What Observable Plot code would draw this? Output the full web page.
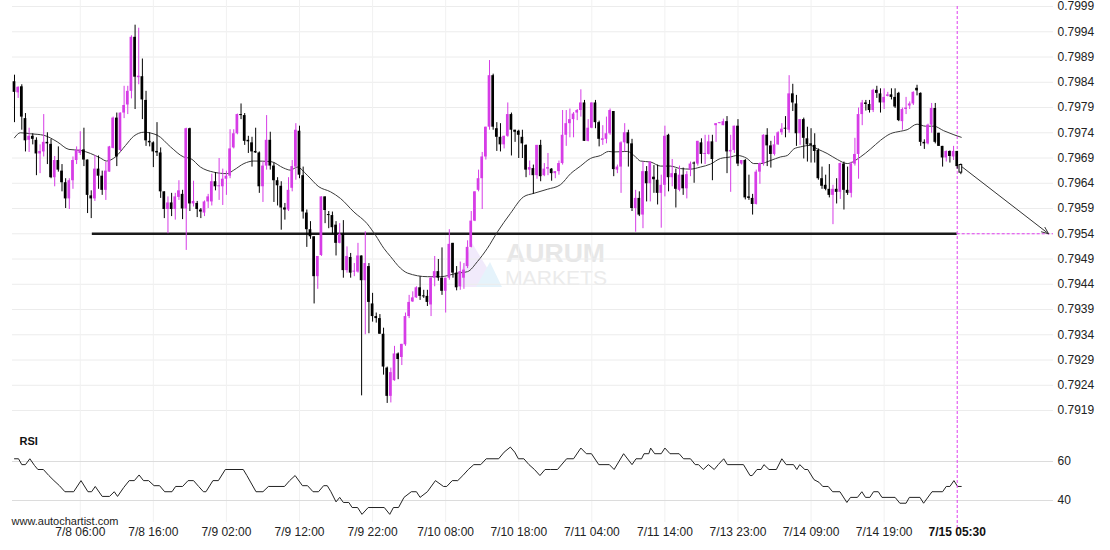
<!DOCTYPE html>
<html>
<head>
<meta charset="utf-8">
<script src="https://cdn.jsdelivr.net/npm/d3@7"></script>
<script src="https://cdn.jsdelivr.net/npm/@observablehq/plot@0.6"></script>
<style>
  body { margin: 0; background: #fff; }
  #wrap { position: relative; width: 1110px; height: 550px; overflow: hidden; font-family: "Liberation Sans", Arial, sans-serif; }
  #wrap > svg, #wrap > div { position: absolute; left: 0; }
</style>
</head>
<body>
<div id="wrap">
  <div id="wm" style="top:0;left:0;width:1110px;height:550px;">
    <svg width="1110" height="550" style="position:absolute;left:0;top:0">
      <polygon points="455,287 472,243 489,271 481,287" fill="#f1eafb"/>
      <polygon points="476,287 490,262 502,287" fill="#e5f3fb"/>
      <text x="506" y="261.5" font-family="Liberation Sans, Arial, sans-serif" font-size="25" font-weight="bold" fill="#e7e7e7" textLength="99" lengthAdjust="spacingAndGlyphs">AURUM</text>
      <text x="505" y="285" font-family="Liberation Sans, Arial, sans-serif" font-size="20" fill="#ebebeb" textLength="102" lengthAdjust="spacingAndGlyphs">MARKETS</text>
    </svg>
  </div>
</div>
<script>
// ---------- DATA ----------
const open = [
0.79841,0.79819,0.79831,0.79768,0.79725,0.79733,0.79725,0.79698,0.79702,0.79721,
0.79717,0.79651,0.79685,0.79664,0.79641,0.79609,0.79645,0.79685,0.79699,0.79706,
0.79686,0.79615,0.79609,0.79668,0.79654,0.79626,0.79662,0.79709,0.79769,0.79705,
0.79779,0.79795,0.79822,0.79929,0.79849,0.79851,0.79804,0.79723,0.79720,0.79703,
0.79700,0.79623,0.79588,0.79601,0.79588,0.79612,0.79618,0.79589,0.79748,0.79599,
0.79600,0.79587,0.79581,0.79603,0.79603,0.79643,0.79633,0.79633,0.79648,0.79654,
0.79710,0.79738,0.79776,0.79774,0.79725,0.79720,0.79703,0.79700,0.79633,0.79674,
0.79725,0.79674,0.79645,0.79634,0.79591,0.79587,0.79630,0.79672,0.79743,0.79655,
0.79581,0.79548,0.79534,0.79455,0.79497,0.79613,0.79578,0.79576,0.79557,0.79521,
0.79539,0.79467,0.79493,0.79464,0.79464,0.79496,0.79447,0.79475,0.79401,0.79376,
0.79372,0.79341,0.79274,0.79218,0.79249,0.79302,0.79295,0.79320,0.79376,0.79405,
0.79413,0.79433,0.79417,0.79416,0.79399,0.79452,0.79465,0.79452,0.79426,0.79452,
0.79521,0.79462,0.79435,0.79452,0.79475,0.79513,0.79565,0.79626,0.79649,0.79692,
0.79751,0.79853,0.79748,0.79731,0.79716,0.79733,0.79776,0.79745,0.79743,0.79731,
0.79715,0.79666,0.79669,0.79655,0.79715,0.79655,0.79668,0.79668,0.79659,0.79663,
0.79679,0.79735,0.79758,0.79766,0.79779,0.79784,0.79799,0.79723,0.79749,0.79799,
0.79760,0.79725,0.79727,0.79738,0.79782,0.79666,0.79672,0.79720,0.79740,0.79718,
0.79590,0.79610,0.79577,0.79663,0.79639,0.79652,0.79646,0.79620,0.79636,0.79735,
0.79651,0.79659,0.79626,0.79656,0.79629,0.79666,0.79679,0.79678,0.79720,0.79697,
0.79697,0.79722,0.79754,0.79758,0.79754,0.79762,0.79702,0.79705,0.79753,0.79678,
0.79685,0.79613,0.79610,0.79598,0.79662,0.79679,0.79735,0.79714,0.79697,0.79716,
0.79740,0.79748,0.79745,0.79817,0.79797,0.79738,0.79766,0.79728,0.79718,0.79715,
0.79705,0.79649,0.79636,0.79628,0.79616,0.79628,0.79622,0.79678,0.79626,0.79620,
0.79678,0.79697,0.79776,0.79799,0.79796,0.79784,0.79824,0.79817,0.79799,0.79812,
0.79815,0.79810,0.79818,0.79762,0.79786,0.79793,0.79797,0.79828,0.79818,0.79721,
0.79718,0.79755,0.79788,0.79739,0.79713,0.79690,0.79703,0.79692,0.79703,0.79676
];
const high = [
0.79854,0.79831,0.79835,0.79778,0.79749,0.79738,0.79730,0.79716,0.79776,0.79740,
0.79727,0.79693,0.79712,0.79677,0.79649,0.79649,0.79692,0.79712,0.79742,0.79749,
0.79686,0.79625,0.79695,0.79694,0.79664,0.79682,0.79713,0.79771,0.79779,0.79779,
0.79832,0.79832,0.79932,0.79953,0.79947,0.79886,0.79822,0.79740,0.79722,0.79760,
0.79710,0.79623,0.79613,0.79620,0.79620,0.79645,0.79626,0.79749,0.79749,0.79644,
0.79604,0.79590,0.79605,0.79618,0.79658,0.79661,0.79689,0.79668,0.79664,0.79746,
0.79746,0.79777,0.79797,0.79778,0.79733,0.79731,0.79749,0.79702,0.79682,0.79774,
0.79741,0.79680,0.79651,0.79643,0.79600,0.79651,0.79685,0.79758,0.79753,0.79672,
0.79587,0.79564,0.79534,0.79495,0.79613,0.79613,0.79584,0.79583,0.79564,0.79560,
0.79566,0.79514,0.79501,0.79481,0.79521,0.79496,0.79544,0.79481,0.79422,0.79383,
0.79380,0.79353,0.79276,0.79274,0.79317,0.79304,0.79321,0.79383,0.79418,0.79425,
0.79435,0.79455,0.79428,0.79428,0.79455,0.79495,0.79489,0.79512,0.79452,0.79548,
0.79521,0.79475,0.79484,0.79481,0.79526,0.79584,0.79623,0.79666,0.79701,0.79751,
0.79883,0.79856,0.79760,0.79758,0.79733,0.79799,0.79779,0.79745,0.79745,0.79745,
0.79716,0.79684,0.79676,0.79715,0.79725,0.79679,0.79699,0.79669,0.79663,0.79684,
0.79784,0.79784,0.79787,0.79780,0.79786,0.79825,0.79804,0.79766,0.79799,0.79804,
0.79763,0.79754,0.79771,0.79787,0.79782,0.79676,0.79722,0.79758,0.79745,0.79727,
0.79626,0.79623,0.79682,0.79673,0.79682,0.79675,0.79676,0.79656,0.79753,0.79737,
0.79687,0.79668,0.79674,0.79670,0.79663,0.79682,0.79682,0.79723,0.79728,0.79735,
0.79735,0.79735,0.79758,0.79760,0.79767,0.79772,0.79735,0.79753,0.79766,0.79685,
0.79687,0.79656,0.79618,0.79666,0.79680,0.79736,0.79748,0.79723,0.79733,0.79742,
0.79758,0.79772,0.79853,0.79836,0.79814,0.79766,0.79769,0.79751,0.79748,0.79738,
0.79708,0.79672,0.79656,0.79677,0.79636,0.79649,0.79680,0.79682,0.79672,0.79682,
0.79729,0.79789,0.79804,0.79804,0.79804,0.79826,0.79832,0.79827,0.79827,0.79820,
0.79827,0.79827,0.79820,0.79789,0.79810,0.79801,0.79821,0.79834,0.79819,0.79726,
0.79757,0.79798,0.79798,0.79739,0.79713,0.79704,0.79704,0.79713,0.79703,0.79678
];
const low = [
0.79760,0.79808,0.79745,0.79702,0.79701,0.79716,0.79655,0.79659,0.79692,0.79677,
0.79649,0.79633,0.79662,0.79623,0.79590,0.79588,0.79628,0.79677,0.79695,0.79673,
0.79580,0.79570,0.79604,0.79628,0.79616,0.79606,0.79662,0.79708,0.79673,0.79702,
0.79768,0.79776,0.79807,0.79786,0.79835,0.79766,0.79713,0.79712,0.79671,0.79693,
0.79610,0.79570,0.79540,0.79574,0.79567,0.79606,0.79568,0.79507,0.79584,0.79593,
0.79572,0.79570,0.79574,0.79590,0.79595,0.79625,0.79606,0.79596,0.79616,0.79649,
0.79708,0.79736,0.79766,0.79715,0.79699,0.79672,0.79699,0.79620,0.79602,0.79666,
0.79666,0.79602,0.79595,0.79547,0.79567,0.79584,0.79623,0.79646,0.79649,0.79569,
0.79513,0.79529,0.79401,0.79430,0.79495,0.79560,0.79550,0.79539,0.79496,0.79520,
0.79452,0.79462,0.79452,0.79455,0.79462,0.79219,0.79340,0.79342,0.79365,0.79363,
0.79341,0.79260,0.79204,0.79205,0.79248,0.79251,0.79279,0.79317,0.79372,0.79404,
0.79412,0.79408,0.79412,0.79396,0.79376,0.79435,0.79446,0.79418,0.79383,0.79448,
0.79452,0.79427,0.79428,0.79430,0.79471,0.79512,0.79564,0.79623,0.79588,0.79686,
0.79745,0.79745,0.79703,0.79702,0.79708,0.79731,0.79694,0.79721,0.79689,0.79689,
0.79651,0.79655,0.79618,0.79648,0.79643,0.79653,0.79655,0.79644,0.79649,0.79656,
0.79676,0.79713,0.79730,0.79730,0.79764,0.79771,0.79723,0.79722,0.79748,0.79748,
0.79712,0.79715,0.79718,0.79735,0.79653,0.79659,0.79620,0.79702,0.79672,0.79584,
0.79543,0.79574,0.79550,0.79603,0.79603,0.79620,0.79597,0.79551,0.79613,0.79623,
0.79633,0.79591,0.79623,0.79616,0.79609,0.79653,0.79640,0.79674,0.79678,0.79677,
0.79696,0.79645,0.79721,0.79758,0.79754,0.79659,0.79622,0.79699,0.79673,0.79676,
0.79607,0.79606,0.79577,0.79597,0.79638,0.79674,0.79673,0.79670,0.79694,0.79715,
0.79735,0.79730,0.79739,0.79782,0.79713,0.79715,0.79688,0.79682,0.79680,0.79680,
0.79646,0.79628,0.79625,0.79611,0.79558,0.79599,0.79608,0.79587,0.79616,0.79611,
0.79674,0.79648,0.79754,0.79783,0.79779,0.79780,0.79808,0.79779,0.79786,0.79811,
0.79805,0.79788,0.79762,0.79745,0.79776,0.79786,0.79794,0.79813,0.79713,0.79707,
0.79716,0.79739,0.79718,0.79713,0.79672,0.79682,0.79680,0.79685,0.79668,0.79657
];
const close = [
0.79820,0.79830,0.79771,0.79724,0.79733,0.79727,0.79698,0.79703,0.79721,0.79718,
0.79651,0.79685,0.79666,0.79641,0.79609,0.79645,0.79685,0.79705,0.79706,0.79686,
0.79616,0.79609,0.79668,0.79654,0.79626,0.79664,0.79712,0.79769,0.79692,0.79779,
0.79794,0.79822,0.79929,0.79850,0.79852,0.79805,0.79724,0.79720,0.79702,0.79700,
0.79623,0.79588,0.79601,0.79588,0.79613,0.79625,0.79589,0.79748,0.79599,0.79604,
0.79588,0.79583,0.79603,0.79613,0.79643,0.79633,0.79635,0.79648,0.79654,0.79708,
0.79738,0.79776,0.79774,0.79723,0.79722,0.79702,0.79700,0.79633,0.79674,0.79725,
0.79674,0.79645,0.79635,0.79591,0.79587,0.79626,0.79673,0.79745,0.79656,0.79583,
0.79548,0.79534,0.79455,0.79495,0.79613,0.79586,0.79576,0.79552,0.79521,0.79539,
0.79467,0.79495,0.79462,0.79465,0.79496,0.79447,0.79481,0.79404,0.79376,0.79372,
0.79341,0.79276,0.79218,0.79265,0.79302,0.79291,0.79321,0.79376,0.79404,0.79413,
0.79433,0.79416,0.79415,0.79404,0.79452,0.79465,0.79452,0.79426,0.79452,0.79519,
0.79462,0.79433,0.79465,0.79468,0.79513,0.79565,0.79623,0.79649,0.79692,0.79751,
0.79853,0.79751,0.79731,0.79716,0.79733,0.79776,0.79745,0.79741,0.79735,0.79718,
0.79666,0.79671,0.79655,0.79715,0.79653,0.79668,0.79671,0.79659,0.79663,0.79679,
0.79735,0.79758,0.79766,0.79777,0.79784,0.79799,0.79723,0.79749,0.79799,0.79760,
0.79727,0.79728,0.79738,0.79784,0.79667,0.79672,0.79720,0.79740,0.79718,0.79590,
0.79610,0.79577,0.79663,0.79639,0.79682,0.79647,0.79620,0.79636,0.79733,0.79651,
0.79659,0.79628,0.79656,0.79629,0.79657,0.79678,0.79678,0.79723,0.79697,0.79699,
0.79722,0.79687,0.79758,0.79760,0.79762,0.79702,0.79705,0.79753,0.79678,0.79685,
0.79611,0.79610,0.79598,0.79662,0.79679,0.79735,0.79714,0.79697,0.79716,0.79740,
0.79747,0.79747,0.79817,0.79799,0.79738,0.79766,0.79729,0.79716,0.79715,0.79703,
0.79649,0.79634,0.79628,0.79616,0.79628,0.79622,0.79679,0.79626,0.79620,0.79678,
0.79697,0.79776,0.79799,0.79796,0.79784,0.79824,0.79818,0.79799,0.79810,0.79815,
0.79810,0.79791,0.79764,0.79786,0.79789,0.79797,0.79820,0.79823,0.79721,0.79718,
0.79755,0.79788,0.79721,0.79713,0.79690,0.79703,0.79693,0.79703,0.79673,0.79661
];

// moving average (read at vertices; x = candle index)
const maIdx = [0,1.6,4.4,8.0,11.7,14.9,18.1,20.8,23.5,25.2,
27.6,30.4,32.6,35.4,39.1,42.7,46.3,48.2,50.9,54.5,
58.2,60.0,62.8,65.5,70.1,73.7,75.5,77.4,80.1,83.3,
86.5,89.2,92.9,96.5,98.8,101.1,102.9,105.6,107.6,113.0,
116.6,121.2,124.0,126.7,129.4,132.2,135.7,139.3,142.1,145.8,
149.4,152.2,154.9,157.6,160.4,162.6,164.0,167.7,170.0,171.3,
174.1,176.8,179.5,182.3,185.0,187.7,190.5,193.2,195.9,197.8,
200.5,202.3,204.2,206.9,209.6,211.5,213.3,215.1,217.8,219.7,
222.4,225.2,227.9,231.5,234.3,237.0,239.7,242.5,244.3,247.0,
249.3,251.6,254.3,257.1,259.1];
const maVal = [0.79730,0.79740,0.79738,0.79735,0.79722,0.79707,0.79705,0.79699,0.79690,0.79684,
0.79692,0.79715,0.79733,0.79741,0.79735,0.79712,0.79692,0.79689,0.79672,0.79662,
0.79659,0.79666,0.79679,0.79684,0.79683,0.79670,0.79666,0.79672,0.79656,0.79633,
0.79623,0.79610,0.79583,0.79560,0.79537,0.79511,0.79495,0.79472,0.79462,0.79455,
0.79455,0.79462,0.79465,0.79485,0.79511,0.79544,0.79580,0.79613,0.79620,0.79628,
0.79637,0.79659,0.79674,0.79689,0.79695,0.79703,0.79702,0.79703,0.79692,0.79684,
0.79682,0.79674,0.79674,0.79669,0.79668,0.79672,0.79678,0.79689,0.79692,0.79695,
0.79689,0.79679,0.79679,0.79685,0.79692,0.79695,0.79708,0.79712,0.79715,0.79708,
0.79699,0.79687,0.79679,0.79692,0.79708,0.79725,0.79738,0.79743,0.79746,0.79757,
0.79753,0.79753,0.79744,0.79736,0.79731];

// RSI (read at vertices)
const rsiIdx = [0,1.1,2.0,3.0,4.2,5.5,6.4,7.9,9.4,10.8,
12.3,13.8,16.2,18.2,20.1,21.1,22.1,24.0,26.0,27.3,
28.2,29.9,31.4,32.8,34.1,35.3,36.7,38.2,39.7,41.1,
43.1,44.1,46.0,47.5,49.0,50.4,51.7,52.4,54.3,55.8,
57.7,62.6,63.6,66.1,68.0,69.5,73.9,75.3,76.8,78.8,
80.2,81.7,83.2,84.6,85.6,86.6,88.0,89.0,90.0,91.5,
92.4,93.9,95.1,96.8,101.2,102.7,103.7,105.1,106.6,108.6,
110.0,111.0,113.0,115.2,117.4,118.3,119.8,121.3,122.7,124.2,
125.7,127.6,129.1,132.5,134.0,135.7,136.9,137.9,139.4,140.8,
142.3,143.8,145.2,146.7,148.6,151.1,153.0,155.0,156.5,157.9,
159.9,162.8,164.1,166.7,169.0,170.1,171.6,172.3,173.6,174.1,
175.2,177.0,178.0,179.4,181.9,183.1,185.0,186.3,187.2,188.5,
189.9,191.5,192.6,194.1,195.1,199.5,201.3,201.9,203.2,204.3,
205.1,206.5,208.5,210.0,211.2,213.2,214.1,214.9,216.3,217.1,
218.8,220.2,221.2,222.7,223.9,225.9,227.8,228.8,230.7,231.9,
232.9,234.1,235.1,236.4,237.4,241.0,242.3,244.0,244.9,247.8,
248.8,251.1,254.0,255.0,256.0,257.1,258.1,259.1];
const rsiVal = [61.4,61.4,58.4,58.4,61.4,57.9,55.9,55.9,52.8,50.2,
47.6,44.5,44.5,50.2,44.5,44.5,47.2,42.1,42.1,44.5,
42.1,46.7,50.2,50.2,53.1,50.2,50.2,47.6,47.6,44.5,
44.5,47.2,47.2,50.2,50.2,47.2,44.5,44.5,50.2,50.2,
55.9,55.9,52.8,44.5,44.5,47.2,47.2,50.2,52.8,47.6,
47.6,44.5,44.5,47.6,47.6,44.5,39.3,41.6,39.0,39.0,
36.4,36.4,32.9,36.4,36.4,32.9,36.4,36.4,41.6,44.5,
44.5,41.6,44.5,50.2,47.2,47.2,50.2,50.2,52.8,55.9,
58.4,58.4,61.4,61.4,64.8,67.4,64.8,61.4,61.4,58.4,
55.9,52.8,55.9,55.9,55.9,61.4,61.4,66.9,64.0,64.0,
58.4,58.4,55.9,64.0,58.4,61.4,61.4,64.0,64.0,66.9,
64.0,64.0,66.9,64.0,64.0,61.4,61.4,58.4,58.4,55.9,
58.4,55.9,58.4,61.4,58.4,58.4,52.8,52.8,55.9,55.9,
58.4,55.9,55.9,61.4,58.4,58.4,55.9,58.4,55.9,55.9,
50.7,49.3,47.2,47.2,44.5,44.5,39.0,41.6,41.6,44.5,
41.6,41.6,44.5,44.5,41.6,41.6,38.6,38.6,41.6,41.6,
38.6,44.5,44.5,47.2,47.2,50.2,47.2,47.2];

const timeLabels = ["7/8 06:00","7/8 16:00","7/9 02:00","7/9 12:00","7/9 22:00","7/10 08:00",
                    "7/10 18:00","7/11 04:00","7/11 14:00","7/13 23:00","7/14 09:00","7/14 19:00"];
const timeTickIdx = [18,38,58,78,98,118,138,158,178,198,218,238];
const currentLabel = "7/15 05:30";
const currentIdx = 258;

const priceTicks = [0.7999,0.7994,0.7989,0.7984,0.7979,0.7974,0.7969,0.7964,0.7959,
                    0.7954,0.7949,0.7944,0.7939,0.7934,0.7929,0.7924,0.7919];
const rsiTicks = [40, 60];

const supportLevel = 0.7954;
const supportStartIdx = 21.3;
const forecast = {i1: 259.4, p1: 0.79672, i2: 283.0, p2: 0.7954};

// ---------- BUILD ----------
const UP = "#d63ce6", DOWN = "#000000", MAG = "#e03ef0";
const candles = open.map((o, i) => ({i, o, h: high[i], l: low[i], c: close[i], last: i === open.length - 1}));
const ma = maIdx.map((i, k) => ({i, v: maVal[k]}));
const rsi = rsiIdx.map((i, k) => ({i, v: rsiVal[k]}));
const xDomain = [-0.547, 284.35];
const font = "Liberation Sans, Arial, sans-serif";

const main = Plot.plot({
  width: 1110, height: 420,
  marginTop: 6, marginBottom: 10, marginLeft: 12, marginRight: 57,
  x: {domain: xDomain, axis: null},
  y: {domain: [0.7919, 0.7999], axis: null, label: null},
  color: {type: "identity"},
  style: {background: "transparent", fontFamily: font, fontSize: "12px", overflow: "visible"},
  marks: [
    Plot.gridY(priceTicks, {stroke: "#ececec", strokeOpacity: 1}),
    Plot.ruleX(timeTickIdx, {stroke: "#f1f1f1", insetTop: -6, insetBottom: -10}),
    Plot.axisY(priceTicks, {anchor: "right", label: null, tickSize: 0, tickPadding: 4, tickFormat: d => d.toFixed(4), fill: "#222", fontSize: 12}),
    Plot.ruleY([supportLevel], {x1: supportStartIdx, x2: currentIdx, stroke: "#1a1a1a", strokeWidth: 2.6}),
    Plot.ruleY([supportLevel], {x1: currentIdx, x2: xDomain[1], stroke: MAG, strokeDasharray: "3,2"}),
    Plot.ruleX([currentIdx], {stroke: MAG, strokeDasharray: "3,2", insetBottom: -10}),
    Plot.line(ma, {x: "i", y: "v", stroke: "#3a3a3a", strokeWidth: 1, curve: "monotone-x"}),
    Plot.ruleX(candles, {x: "i", y1: "l", y2: "h", stroke: d => d.last ? "#000" : (d.c >= d.o ? UP : DOWN), strokeWidth: 1}),
    Plot.rect(candles, {
      x1: d => d.i - 0.37, x2: d => d.i + 0.37,
      y1: d => Math.min(d.o, d.c),
      y2: d => Math.max(Math.max(d.o, d.c), Math.min(d.o, d.c) + 0.00002),
      fill: d => d.last ? "#ffffff" : (d.c >= d.o ? UP : DOWN),
      stroke: d => d.last ? "#000000" : "none",
      strokeWidth: 1
    }),
    Plot.arrow([forecast], {x1: "i1", y1: "p1", x2: "i2", y2: "p2", stroke: "#333", strokeWidth: 1, headLength: 11, headAngle: 45})
  ]
});
main.style.top = "0px";

const rsiPlot = Plot.plot({
  width: 1110, height: 130,
  marginTop: 10, marginBottom: 28, marginLeft: 12, marginRight: 57,
  x: {domain: xDomain, axis: null},
  y: {domain: [28.72, 75.9], axis: null, label: null},
  style: {background: "transparent", fontFamily: font, fontSize: "12px", overflow: "visible"},
  marks: [
    Plot.ruleX(timeTickIdx, {stroke: "#f1f1f1", insetTop: -10}),
    Plot.gridY(rsiTicks, {stroke: "#dcdcdc", strokeOpacity: 1}),
    Plot.axisY(rsiTicks, {anchor: "right", label: null, tickSize: 0, tickPadding: 4, fill: "#222", fontSize: 12}),
    Plot.line(rsi, {x: "i", y: "v", stroke: "#222", strokeWidth: 1}),
    Plot.ruleX([currentIdx], {stroke: MAG, strokeDasharray: "3,2", insetTop: -10, insetBottom: -8}),
    Plot.text(timeTickIdx, {x: d => d, text: (d, k) => timeLabels[k], frameAnchor: "bottom", dy: 13, fontSize: 12, fill: "#222"}),
    Plot.text([currentLabel], {x: () => currentIdx, text: d => d, frameAnchor: "bottom", dy: 13, fontSize: 12, fontWeight: "bold", fill: "#111"}),
    Plot.text(["RSI"], {text: d => d, frameAnchor: "top-left", dx: 7, dy: 7, fontSize: 11, fontWeight: "bold", fill: "#111"}),
    Plot.text(["www.autochartist.com"], {text: d => d, frameAnchor: "bottom-left", dx: -1, dy: 2, fontSize: 11, fill: "#222"})
  ]
});
rsiPlot.style.top = "420px";

const wrap = document.getElementById("wrap");
wrap.appendChild(main);
wrap.appendChild(rsiPlot);
</script>
</body>
</html>
